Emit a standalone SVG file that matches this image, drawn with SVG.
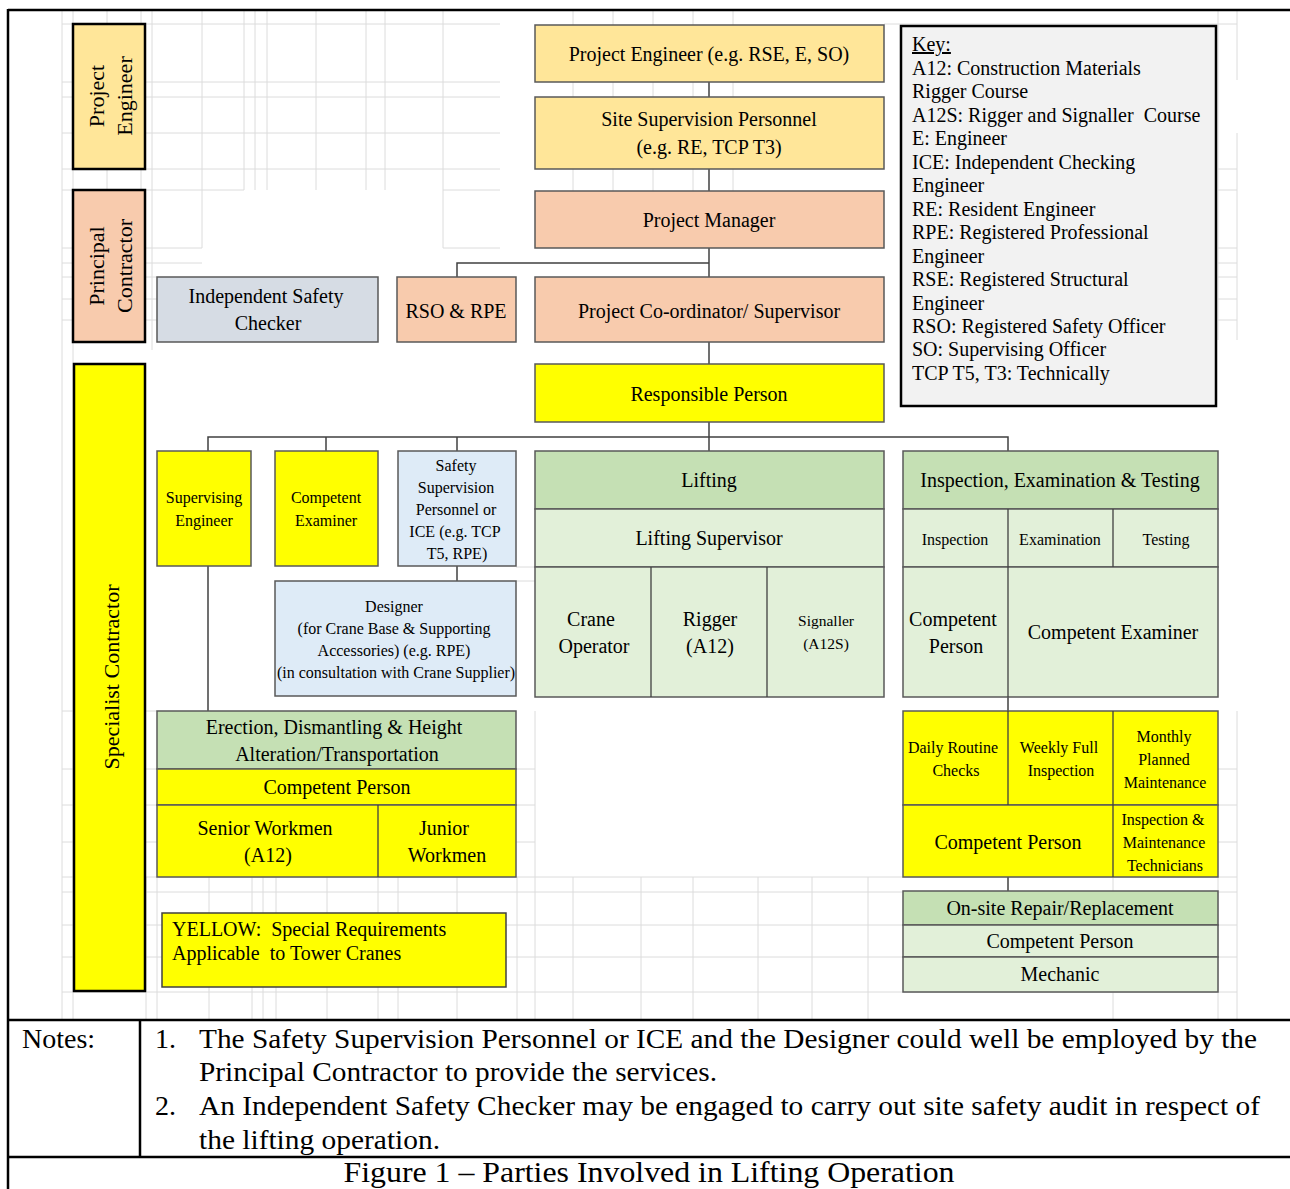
<svg xmlns="http://www.w3.org/2000/svg" width="1290" height="1189" viewBox="0 0 1290 1189">
<style>
text { font-family: "Liberation Serif", "Times New Roman", serif; fill: #000; }
.c { text-anchor: middle; }
.f20 { font-size: 20px; }
.f16 { font-size: 16px; }
.f15 { font-size: 15.5px; }
.box { stroke: #595959; stroke-width: 1.5; }
.lbl { stroke: #000; stroke-width: 2.5; }
.div { stroke: #404040; stroke-width: 1.3; fill: none; }
.y { fill: #ffff00; }
.ly { fill: #ffe699; }
.sa { fill: #f8cbad; }
.gb { fill: #d6dce4; }
.lb { fill: #deebf7; }
.g { fill: #c5e0b4; }
.lg { fill: #e2f0d9; }
#grid line { stroke: #dcdcdc; stroke-width: 1; }
#connectors path { stroke: #404040; stroke-width: 1.5; fill: none; }
.frame { stroke: #000; stroke-width: 2.5; fill: none; }
</style>
<rect x="0" y="0" width="1290" height="1189" fill="#fff"/>

<g id="grid">
  <line x1="62" y1="10" x2="62" y2="1020"/>
  <line x1="73" y1="10" x2="73" y2="1020"/>
  <line x1="107" y1="10" x2="107" y2="190"/>
  <line x1="141" y1="10" x2="141" y2="190"/>
  <line x1="152" y1="10" x2="152" y2="350"/>
  <line x1="202" y1="10" x2="202" y2="248"/>
  <line x1="244" y1="10" x2="244" y2="190"/>
  <line x1="255" y1="10" x2="255" y2="190"/>
  <line x1="267" y1="10" x2="267" y2="190"/>
  <line x1="316" y1="10" x2="316" y2="190"/>
  <line x1="366" y1="10" x2="366" y2="190"/>
  <line x1="385" y1="10" x2="385" y2="190"/>
  <line x1="443" y1="10" x2="443" y2="248"/>
  <line x1="573" y1="10" x2="573" y2="191"/>
  <line x1="613" y1="10" x2="613" y2="191"/>
  <line x1="653" y1="10" x2="653" y2="191"/>
  <line x1="693" y1="10" x2="693" y2="191"/>
  <line x1="733" y1="10" x2="733" y2="191"/>
  <line x1="62" y1="24" x2="500" y2="24"/>
  <line x1="62" y1="82" x2="500" y2="82"/>
  <line x1="62" y1="97" x2="500" y2="97"/>
  <line x1="62" y1="133" x2="500" y2="133"/>
  <line x1="62" y1="169" x2="500" y2="169"/>
  <line x1="62" y1="190" x2="244" y2="190"/>
  <line x1="443" y1="190" x2="500" y2="190"/>
  <line x1="62" y1="248" x2="202" y2="248"/>
  <line x1="443" y1="248" x2="500" y2="248"/>
  <line x1="62" y1="263" x2="202" y2="263"/>
  <line x1="62" y1="277" x2="157" y2="277"/>
  <line x1="62" y1="299" x2="157" y2="299"/>
  <line x1="62" y1="320" x2="157" y2="320"/>
  <line x1="1218" y1="10" x2="1218" y2="340"/>
  <line x1="1237" y1="10" x2="1237" y2="80"/>
  <line x1="1237" y1="133" x2="1237" y2="340"/>
  <line x1="884" y1="24" x2="1237" y2="24"/>
  <line x1="1218" y1="169" x2="1237" y2="169"/>
  <line x1="1218" y1="190" x2="1237" y2="190"/>
  <line x1="1218" y1="248" x2="1237" y2="248"/>
  <line x1="1218" y1="263" x2="1237" y2="263"/>
  <line x1="1218" y1="277" x2="1237" y2="277"/>
  <line x1="1218" y1="299" x2="1237" y2="299"/>
  <line x1="1218" y1="320" x2="1237" y2="320"/>
  <line x1="516" y1="567" x2="535" y2="567"/>
  <line x1="516" y1="581" x2="535" y2="581"/>
  <line x1="62" y1="711" x2="157" y2="711"/>
  <line x1="62" y1="769" x2="157" y2="769"/>
  <line x1="62" y1="805" x2="157" y2="805"/>
  <line x1="62" y1="842" x2="157" y2="842"/>
  <line x1="62" y1="877" x2="1237" y2="877"/>
  <line x1="62" y1="892" x2="1237" y2="892"/>
  <line x1="62" y1="925" x2="1237" y2="925"/>
  <line x1="62" y1="957" x2="1237" y2="957"/>
  <line x1="62" y1="992" x2="1237" y2="992"/>
  <line x1="516" y1="769" x2="535" y2="769"/>
  <line x1="516" y1="805" x2="535" y2="805"/>
  <line x1="516" y1="842" x2="535" y2="842"/>
  <line x1="1218" y1="769" x2="1237" y2="769"/>
  <line x1="1218" y1="805" x2="1237" y2="805"/>
  <line x1="1218" y1="842" x2="1237" y2="842"/>
  <line x1="1237" y1="711" x2="1237" y2="1020"/>
  <line x1="146" y1="877" x2="146" y2="1020"/>
  <line x1="157" y1="877" x2="157" y2="1020"/>
  <line x1="209" y1="877" x2="209" y2="1020"/>
  <line x1="252" y1="877" x2="252" y2="1020"/>
  <line x1="263" y1="877" x2="263" y2="1020"/>
  <line x1="276" y1="877" x2="276" y2="1020"/>
  <line x1="327" y1="877" x2="327" y2="1020"/>
  <line x1="378" y1="877" x2="378" y2="1020"/>
  <line x1="398" y1="877" x2="398" y2="1020"/>
  <line x1="457" y1="877" x2="457" y2="1020"/>
  <line x1="517" y1="877" x2="517" y2="1020"/>
  <line x1="535" y1="711" x2="535" y2="1020"/>
  <line x1="573" y1="877" x2="573" y2="1020"/>
  <line x1="641" y1="877" x2="641" y2="1020"/>
  <line x1="693" y1="877" x2="693" y2="1020"/>
  <line x1="758" y1="877" x2="758" y2="1020"/>
  <line x1="812" y1="877" x2="812" y2="1020"/>
  <line x1="868" y1="877" x2="868" y2="1020"/>
  <line x1="1113" y1="877" x2="1113" y2="1020"/>
  <line x1="1218" y1="877" x2="1218" y2="1020"/>
</g>

<g id="frame">
  <line class="frame" x1="8" y1="10" x2="1290" y2="10"/>
  <line class="frame" x1="8" y1="9" x2="8" y2="1189"/>
  <line class="frame" x1="8" y1="1020" x2="1290" y2="1020"/>
  <line class="frame" x1="140" y1="1020" x2="140" y2="1157"/>
  <line class="frame" x1="8" y1="1157" x2="1290" y2="1157"/>
</g>

<g id="connectors">
  <path d="M709 82 V97"/>
  <path d="M709 169 V191"/>
  <path d="M709 248 V277"/>
  <path d="M709 263 H457 V277"/>
  <path d="M709 342 V364"/>
  <path d="M709 422 V451"/>
  <path d="M208 451 V437 H1008 V451"/>
  <path d="M326 437 V451"/>
  <path d="M457 437 V451"/>
  <path d="M457 566 V581"/>
  <path d="M208 566 V711"/>
  <path d="M1008 697 V711"/>
  <path d="M1008 877 V891"/>
</g>

<g id="label-project-engineer">
  <rect class="lbl ly" x="73" y="24" width="72" height="145"/>
  <g transform="translate(109,96) rotate(-90)">
    <text class="c" x="0" y="-5" font-size="22">Project</text>
    <text class="c" x="0" y="23" font-size="22">Engineer</text>
  </g>
</g>
<g id="label-principal-contractor">
  <rect class="lbl sa" x="73" y="190" width="72" height="152"/>
  <g transform="translate(109,266) rotate(-90)">
    <text class="c" x="0" y="-5" font-size="22">Principal</text>
    <text class="c" x="0" y="23" font-size="22">Contractor</text>
  </g>
</g>
<g id="label-specialist-contractor">
  <rect class="lbl y" x="74" y="364" width="71" height="627"/>
  <g transform="translate(110,677) rotate(-90)">
    <text class="c" x="0" y="9" font-size="22">Specialist Contractor</text>
  </g>
</g>

<g id="project-engineer">
  <rect class="box ly" x="535" y="25" width="349" height="57"/>
  <text class="c f20" x="709" y="61">Project Engineer (e.g. RSE, E, SO)</text>
</g>
<g id="site-supervision">
  <rect class="box ly" x="535" y="97" width="349" height="72"/>
  <text class="c f20" x="709" y="126">Site Supervision Personnel</text>
  <text class="c f20" x="709" y="154">(e.g. RE, TCP T3)</text>
</g>
<g id="project-manager">
  <rect class="box sa" x="535" y="191" width="349" height="57"/>
  <text class="c f20" x="709" y="227">Project Manager</text>
</g>
<g id="independent-safety-checker">
  <rect class="box gb" x="157" y="277" width="221" height="65"/>
  <text class="c f20" x="266" y="303">Independent Safety</text>
  <text class="c f20" x="268" y="330">Checker</text>
</g>
<g id="rso-rpe">
  <rect class="box sa" x="397" y="277" width="119" height="65"/>
  <text class="c f20" x="456" y="318">RSO &amp; RPE</text>
</g>
<g id="project-coordinator">
  <rect class="box sa" x="535" y="277" width="349" height="65"/>
  <text class="c f20" x="709" y="318">Project Co-ordinator/ Supervisor</text>
</g>
<g id="responsible-person">
  <rect class="box y" x="535" y="364" width="349" height="58"/>
  <text class="c f20" x="709" y="401">Responsible Person</text>
</g>

<g id="key">
  <rect x="901" y="26" width="315" height="380" fill="#f2f2f2" stroke="#000" stroke-width="2.5"/>
  <text class="f20" x="912" y="51" text-decoration="underline">Key:</text>
  <text class="f20" x="912" y="75">A12: Construction Materials</text>
  <text class="f20" x="912" y="98">Rigger Course</text>
  <text class="f20" x="912" y="122">A12S: Rigger and Signaller&#160; Course</text>
  <text class="f20" x="912" y="145">E: Engineer</text>
  <text class="f20" x="912" y="169">ICE: Independent Checking</text>
  <text class="f20" x="912" y="192">Engineer</text>
  <text class="f20" x="912" y="216">RE: Resident Engineer</text>
  <text class="f20" x="912" y="239">RPE: Registered Professional</text>
  <text class="f20" x="912" y="263">Engineer</text>
  <text class="f20" x="912" y="286">RSE: Registered Structural</text>
  <text class="f20" x="912" y="310">Engineer</text>
  <text class="f20" x="912" y="333">RSO: Registered Safety Officer</text>
  <text class="f20" x="912" y="356">SO: Supervising Officer</text>
  <text class="f20" x="912" y="380">TCP T5, T3: Technically</text>
</g>

<g id="supervising-engineer">
  <rect class="box y" x="157" y="451" width="94" height="115"/>
  <text class="c f16" x="204" y="503">Supervising</text>
  <text class="c f16" x="204" y="526">Engineer</text>
</g>
<g id="competent-examiner">
  <rect class="box y" x="275" y="451" width="103" height="115"/>
  <text class="c f16" x="326" y="503">Competent</text>
  <text class="c f16" x="326" y="526">Examiner</text>
</g>
<g id="safety-supervision-personnel">
  <rect class="box lb" x="398" y="451" width="118" height="115"/>
  <text class="c f16" x="456" y="471">Safety</text>
  <text class="c f16" x="456" y="493">Supervision</text>
  <text class="c f16" x="456" y="515">Personnel or</text>
  <text class="c f16" x="455" y="537">ICE (e.g. TCP</text>
  <text class="c f16" x="457" y="559">T5, RPE)</text>
</g>
<g id="designer">
  <rect class="box lb" x="275" y="581" width="241" height="115"/>
  <text class="c f16" x="394" y="612">Designer</text>
  <text class="c f16" x="394" y="634">(for Crane Base &amp; Supporting</text>
  <text class="c f16" x="394" y="656">Accessories) (e.g. RPE)</text>
  <text class="c f16" x="396" y="678">(in consultation with Crane Supplier)</text>
</g>

<g id="lifting">
  <rect class="box g" x="535" y="451" width="349" height="58"/>
  <rect class="box lg" x="535" y="509" width="349" height="58"/>
  <rect class="box lg" x="535" y="567" width="349" height="130"/>
  <line class="div" x1="651" y1="567" x2="651" y2="697"/>
  <line class="div" x1="767" y1="567" x2="767" y2="697"/>
  <text class="c f20" x="709" y="487">Lifting</text>
  <text class="c f20" x="709" y="545">Lifting Supervisor</text>
  <text class="c f20" x="591" y="626">Crane</text>
  <text class="c f20" x="594" y="653">Operator</text>
  <text class="c f20" x="710" y="626">Rigger</text>
  <text class="c f20" x="710" y="653">(A12)</text>
  <text class="c f15" x="826" y="626">Signaller</text>
  <text class="c f15" x="826" y="649">(A12S)</text>
</g>

<g id="inspection-examination-testing">
  <rect class="box g" x="903" y="451" width="315" height="58"/>
  <rect class="box lg" x="903" y="509" width="315" height="58"/>
  <rect class="box lg" x="903" y="567" width="315" height="130"/>
  <line class="div" x1="1008" y1="509" x2="1008" y2="697"/>
  <line class="div" x1="1113" y1="509" x2="1113" y2="567"/>
  <text class="c f20" x="1060" y="487">Inspection, Examination &amp; Testing</text>
  <text class="c f16" x="955" y="545">Inspection</text>
  <text class="c f16" x="1060" y="545">Examination</text>
  <text class="c f16" x="1166" y="545">Testing</text>
  <text class="c f20" x="953" y="626">Competent</text>
  <text class="c f20" x="956" y="653">Person</text>
  <text class="c f20" x="1113" y="639">Competent Examiner</text>
</g>

<g id="erection">
  <rect class="box g" x="157" y="711" width="359" height="58"/>
  <rect class="box y" x="157" y="769" width="359" height="36"/>
  <rect class="box y" x="157" y="805" width="359" height="72"/>
  <line class="div" x1="378" y1="805" x2="378" y2="877"/>
  <text class="c f20" x="334" y="734">Erection, Dismantling &amp; Height</text>
  <text class="c f20" x="337" y="761">Alteration/Transportation</text>
  <text class="c f20" x="337" y="794">Competent Person</text>
  <text class="c f20" x="265" y="835">Senior Workmen</text>
  <text class="c f20" x="268" y="862">(A12)</text>
  <text class="c f20" x="444" y="835">Junior</text>
  <text class="c f20" x="447" y="862">Workmen</text>
</g>

<g id="maintenance">
  <rect class="box y" x="903" y="711" width="315" height="94"/>
  <rect class="box y" x="903" y="805" width="315" height="72"/>
  <line class="div" x1="1008" y1="711" x2="1008" y2="805"/>
  <line class="div" x1="1113" y1="711" x2="1113" y2="877"/>
  <text class="c f16" x="953" y="753">Daily Routine</text>
  <text class="c f16" x="956" y="776">Checks</text>
  <text class="c f16" x="1059" y="753">Weekly Full</text>
  <text class="c f16" x="1061" y="776">Inspection</text>
  <text class="c f16" x="1164" y="742">Monthly</text>
  <text class="c f16" x="1164" y="765">Planned</text>
  <text class="c f16" x="1165" y="788">Maintenance</text>
  <text class="c f20" x="1008" y="849">Competent Person</text>
  <text class="c f16" x="1163" y="825">Inspection &amp;</text>
  <text class="c f16" x="1164" y="848">Maintenance</text>
  <text class="c f16" x="1165" y="871">Technicians</text>
</g>

<g id="repair">
  <rect class="box g" x="903" y="891" width="315" height="34"/>
  <rect class="box lg" x="903" y="925" width="315" height="32"/>
  <rect class="box lg" x="903" y="957" width="315" height="35"/>
  <text class="c f20" x="1060" y="915">On-site Repair/Replacement</text>
  <text class="c f20" x="1060" y="948">Competent Person</text>
  <text class="c f20" x="1060" y="981">Mechanic</text>
</g>

<g id="yellow-legend">
  <rect x="162" y="913" width="344" height="74" fill="#ffff00" stroke="#404040" stroke-width="1.5"/>
  <text class="f20" x="172" y="936">YELLOW:&#160; Special Requirements</text>
  <text class="f20" x="172" y="960">Applicable&#160; to Tower Cranes</text>
</g>

<g id="notes">
  <text x="22" y="1048" font-size="28">Notes:</text>
  <text x="155" y="1048" font-size="28">1.</text>
  <text x="199" y="1048" font-size="28" textLength="1058" lengthAdjust="spacingAndGlyphs">The Safety Supervision Personnel or ICE and the Designer could well be employed by the</text>
  <text x="199" y="1081" font-size="28" textLength="518" lengthAdjust="spacingAndGlyphs">Principal Contractor to provide the services.</text>
  <text x="155" y="1115" font-size="28">2.</text>
  <text x="199" y="1115" font-size="28" textLength="1061" lengthAdjust="spacingAndGlyphs">An Independent Safety Checker may be engaged to carry out site safety audit in respect of</text>
  <text x="199" y="1149" font-size="28" textLength="241" lengthAdjust="spacingAndGlyphs">the lifting operation.</text>
</g>

<g id="caption">
  <text class="c" x="649" y="1182" font-size="30" textLength="611" lengthAdjust="spacingAndGlyphs">Figure 1 – Parties Involved in Lifting Operation</text>
</g>
</svg>
